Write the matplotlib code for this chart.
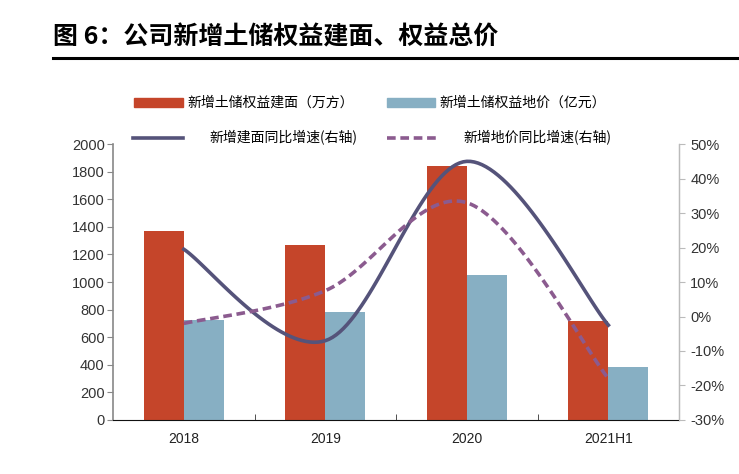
import numpy as np
import matplotlib.pyplot as plt
from matplotlib.lines import Line2D
from matplotlib.patches import Rectangle

plt.rcParams['font.family'] = ['Liberation Sans', 'Noto Sans CJK SC']

categories = ['2018', '2019', '2020', '2021H1']
area = [1370, 1268, 1843, 717]          # 新增土储权益建面（万方）
price = [725, 783, 1050, 384]           # 新增土储权益地价（亿元）
area_yoy = [19.5, -7.0, 45.0, -2.5]     # 新增建面同比增速 (%)
price_yoy = [-2.0, 7.5, 33.0, -18.0]    # 新增地价同比增速 (%)

c_red = '#C5452A'
c_blue = '#87AFC3'
c_solid = '#55537A'
c_dash = '#8B5B8F'
dash = (0, (2.4, 1.3))


def smooth(xs, ys, n=40):
    # excel style smoothed line (catmull-rom bezier)
    xs = np.asarray(xs, float)
    ys = np.asarray(ys, float)
    px = np.concatenate([[xs[0]], xs, [xs[-1]]])
    py = np.concatenate([[ys[0]], ys, [ys[-1]]])
    ox, oy = [], []
    t = np.linspace(0, 1, n)
    for i in range(1, len(xs)):
        p0 = np.array([px[i], py[i]])
        p3 = np.array([px[i + 1], py[i + 1]])
        c1 = p0 + (p3 - np.array([px[i - 1], py[i - 1]])) / 6
        c2 = p3 - (np.array([px[i + 2], py[i + 2]]) - p0) / 6
        b = ((1 - t) ** 3)[:, None] * p0 + (3 * (1 - t) ** 2 * t)[:, None] * c1 \
            + (3 * (1 - t) * t ** 2)[:, None] * c2 + (t ** 3)[:, None] * p3
        ox.extend(b[:, 0])
        oy.extend(b[:, 1])
    return ox, oy


fig = plt.figure(figsize=(7.39, 4.74), dpi=100)
ax = fig.add_axes([0.153, 0.114, 0.766, 0.582])
ax2 = ax.twinx()

x = np.arange(len(categories))
w = 0.283
ax.bar(x - w / 2, area, w, color=c_red, zorder=2)
ax.bar(x + w / 2, price, w, color=c_blue, zorder=2)
ax.set_xlim(-0.5, 3.5)
ax.set_ylim(0, 2000)
ax.set_yticks(range(0, 2001, 200))
ax.set_xticks(x)
ax.set_xticklabels(categories)
ax.set_xticks([0.5, 1.5, 2.5], minor=True)
ax.tick_params(axis='x', which='major', length=0, pad=9, labelsize=10, colors='#222222')
ax.tick_params(axis='x', which='minor', length=4, direction='in', color='#333333')
ax.tick_params(axis='y', length=4, direction='out', color='#888888', labelsize=10.5, labelcolor='#333333', pad=2)

sx, sy = smooth(x, area_yoy)
ax2.plot(sx, sy, color=c_solid, lw=2.6, zorder=3)
dx, dy = smooth(x, price_yoy)
ax2.plot(dx, dy, color=c_dash, lw=2.6, ls=dash, zorder=3)
ax2.set_ylim(-30, 50)
ax2.set_yticks(range(-30, 51, 10))
ax2.set_yticklabels([f'{v}%' for v in range(-30, 51, 10)])
ax2.tick_params(axis='y', length=4, direction='out', color='#bbbbbb', labelsize=10.5, labelcolor='#333333', pad=4)

for a in (ax, ax2):
    a.spines['top'].set_visible(False)
ax.spines['left'].set_color('#888888')
ax.spines['left'].set_linewidth(1.2)
ax.spines['bottom'].set_color('#111111')
ax2.spines['right'].set_color('#bbbbbb')
ax2.spines['left'].set_visible(False)
ax2.spines['bottom'].set_visible(False)

# title
fig.text(0.072, 0.922, '图 6：公司新增土储权益建面、权益总价', fontsize=18, fontweight='bold',
         family=['Noto Sans CJK SC', 'DejaVu Sans'], va='center', ha='left')
fig.add_artist(Line2D([0.072, 1.0], [0.878, 0.878], color='black', lw=2.2))

# legend
fs = 10
fam = ['Noto Sans CJK SC', 'DejaVu Sans']
fig.add_artist(Rectangle((0.181, 0.774), 0.066, 0.019, color=c_red))
fig.text(0.253, 0.784, '新增土储权益建面（万方）', fontsize=fs, va='center', family=fam)
fig.add_artist(Rectangle((0.524, 0.774), 0.065, 0.019, color=c_blue))
fig.text(0.595, 0.784, '新增土储权益地价（亿元）', fontsize=fs, va='center', family=fam)
fig.add_artist(Line2D([0.180, 0.248], [0.709, 0.709], color=c_solid, lw=2.6))
fig.text(0.284, 0.709, '新增建面同比增速(右轴)', fontsize=fs, va='center', family=fam)
fig.add_artist(Line2D([0.524, 0.590], [0.709, 0.709], color=c_dash, lw=2.6, ls=dash))
fig.text(0.627, 0.709, '新增地价同比增速(右轴)', fontsize=fs, va='center', family=fam)

fig.savefig('out.png', dpi=100)
